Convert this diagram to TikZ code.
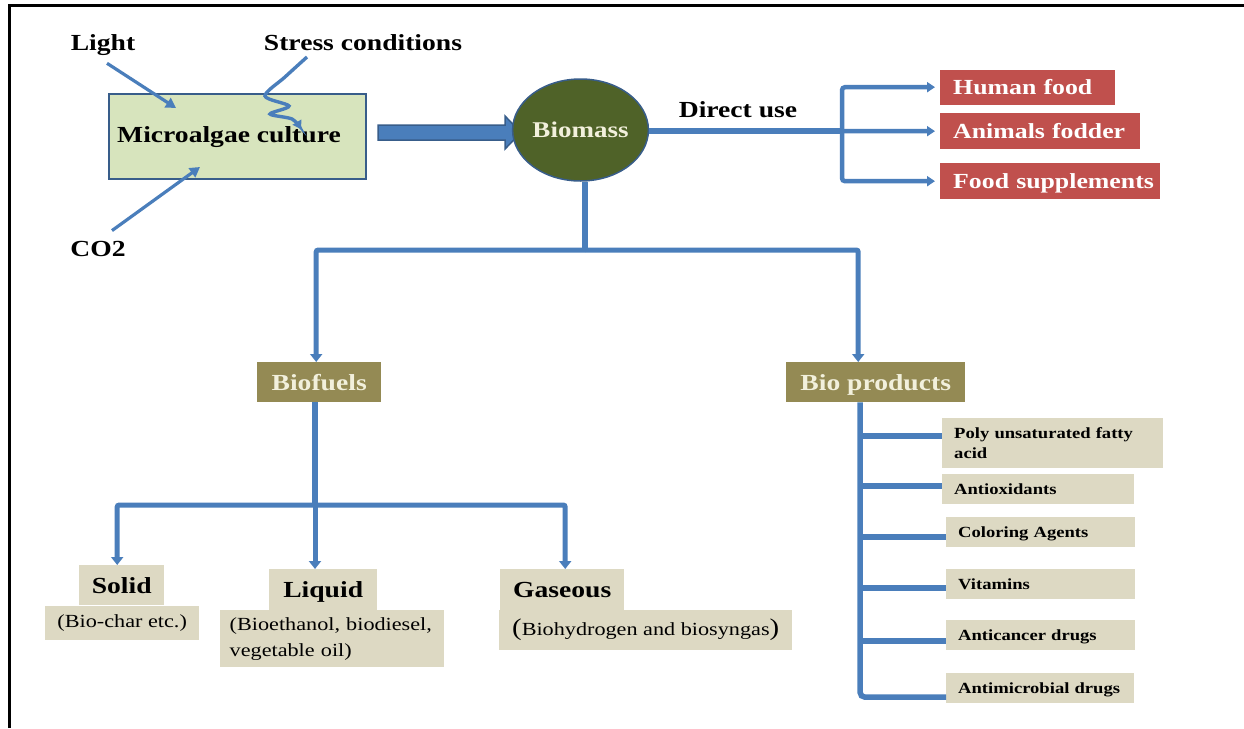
\documentclass[tikz,border=0pt]{standalone}
\usepackage{fontspec}
\setmainfont{Liberation Serif}[FakeStretch=1.2]
\usetikzlibrary{arrows.meta,calc,shapes.geometric}
\definecolor{lineblue}{HTML}{4A7EBB}
\definecolor{darkblue}{HTML}{385D8A}
\definecolor{algae}{HTML}{D7E4BD}
\definecolor{olivegreen}{HTML}{4F6228}
\definecolor{khaki}{HTML}{948A54}
\definecolor{beige}{HTML}{DDD9C3}
\definecolor{redfill}{HTML}{C0504D}
\definecolor{cream}{HTML}{F2F0DC}
\begin{document}
\begin{tikzpicture}[x=1pt,y=-1pt,
  lbl/.style={font=\bfseries\fontsize{23}{27}\selectfont, inner sep=0, anchor=base},
  khakibox/.style={fill=khaki, text=cream, font=\bfseries\fontsize{23}{27}\selectfont, inner sep=0, text depth=0pt, anchor=north west},
  beigebold/.style={fill=beige, font=\bfseries\fontsize{23}{27}\selectfont, inner sep=0, text depth=0pt, anchor=north west},
  beigesub/.style={fill=beige, font=\fontsize{18.5}{26}\selectfont, inner sep=0, anchor=north west},
  listbox/.style={fill=beige, font=\bfseries\fontsize{15.5}{20}\selectfont, inner xsep=12, inner ysep=0, align=left, anchor=north west},
  oneline/.style={text depth=0pt},
  redb/.style={fill=redfill, text=white, font=\bfseries\fontsize{21.5}{25}\selectfont, inner xsep=13, inner ysep=0, text depth=0pt, align=left, anchor=north west},
  thinarrow/.style={draw=lineblue, line width=3.2, -{Triangle[length=10,width=11]}},
  mainline/.style={draw=lineblue, line width=6.5},
  tline/.style={draw=lineblue, line width=5.5},
  tarrow/.style={draw=lineblue, line width=5, -{Triangle[length=8,width=12]}},
  barrow/.style={draw=lineblue, line width=4.5},
]
\useasboundingbox (0,0) rectangle (1244,728);
\fill[white] (0,0) rectangle (1244,728);
\draw[line width=3] (9,728) -- (9,5) -- (1244,5);

% top left
\node[draw=darkblue, line width=1.5, fill=algae, minimum width=257, minimum height=85, anchor=north west, inner sep=0] (culture) at (108,93) {};
\node[lbl] (culturetxt) at (229,142) {Microalgae culture};
\node[lbl] (light) at (103,50) {Light};
\node[lbl] (stress) at (363,50) {Stress conditions};
\node[lbl] (co2) at (98,256) {CO2};

\coordinate (lightEnd) at (176,108);
\coordinate (co2End) at (200,167);
\draw[thinarrow] ([xshift=4,yshift=-8]light.south) -- (lightEnd);
\draw[thinarrow] ([xshift=14,yshift=10]co2.north) -- (co2End);
\draw[draw=lineblue, line width=3.4, -{Triangle[length=8,width=10]}]
  plot[smooth, tension=0.5] coordinates {(307,57) (285,77) (265,96) (289,106) (270,114) (292,119) (301,129)};

% block arrow
\draw[fill=lineblue, draw=darkblue, line width=1.5]
  (378,125) -- (505,125) -- (505,116) -- (521,132.5) -- (505,149) -- (505,140) -- (378,140) -- cycle;

% biomass
\node[ellipse, fill=olivegreen, draw=darkblue, line width=1.5, minimum width=115, minimum height=102, inner sep=0,
      text=cream, font=\bfseries\fontsize{22.5}{26}\selectfont] (biomass) at (580.5,130) {Biomass};

% direct use
\node[lbl] (direct) at (738,117) {Direct use};
\node[redb, text width=149, minimum height=35] (f1) at (940,69.5) {\mbox{Human food}};
\node[redb, text width=174, minimum height=36] (f2) at (940,113) {\mbox{Animals fodder}};
\node[redb, text width=194, minimum height=36] (f3) at (940,163) {\mbox{Food supplements}};
\coordinate (dj) at (842,131);
\draw[mainline] (biomass.east |- dj) -- (dj);
\draw[barrow, rounded corners=3, {Triangle[length=8,width=10]}-{Triangle[length=8,width=10]}]
  ([xshift=-5]f3.west) -- (dj |- f3.west) -- (dj |- f1.west) -- ([xshift=-5]f1.west);
\draw[barrow, -{Triangle[length=8,width=10]}] (dj) -- ([xshift=-5]f2.west);

% second level
\node[khakibox, minimum width=124, minimum height=40] (biofuels) at (257,362) {Biofuels};
\node[khakibox, minimum width=179, minimum height=40] (bioprod) at (786,362) {Bio products};
\coordinate (t0) at (585,250);
\draw[mainline] ([xshift=4.5]biomass.south) -- (t0);
\draw[tarrow, rounded corners=2] (t0) -| ([xshift=-3]biofuels.north);
\draw[tarrow, rounded corners=2] (t0) -| ([xshift=-17.5]bioprod.north);

% biofuels subtree
\node[beigebold, minimum width=85, minimum height=40] (solid) at (79,565) {Solid};
\node[beigesub, minimum width=154, minimum height=34] (solidsub) at (45,606) {(Bio-char etc.)};
\node[beigebold, minimum width=108, minimum height=41] (liquid) at (269,569) {Liquid};
\node[beigesub, text width=205, inner xsep=9.5, align=left, minimum height=57] (liquidsub) at (220,610) {(Bioethanol, biodiesel,\\vegetable oil)};
\node[beigebold, minimum width=124, minimum height=41] (gas) at (500,569) {Gaseous};
\node[beigesub, minimum width=293, minimum height=40] (gassub) at (499,610)
  {{\fontsize{24}{24}\selectfont(}Biohydrogen and biosyngas{\fontsize{24}{24}\selectfont)}};
\coordinate (b0) at (315,505);
\draw[tline] (biofuels.south -| b0) -- (b0);
\draw[tarrow, rounded corners=2] (b0) -| ([xshift=-4.5]solid.north);
\draw[tarrow] (b0) -- (b0 |- liquid.north);
\draw[tarrow, rounded corners=2] (b0) -| ([xshift=3]gas.north);

% bio products subtree
\node[listbox, text width=197, minimum height=50] (p1) at (942,418) {Poly unsaturated fatty\\acid};
\node[listbox, oneline, text width=168, minimum height=30] (p2) at (942,474) {Antioxidants};
\node[listbox, oneline, text width=165, minimum height=30] (p3) at (946,517) {Coloring Agents};
\node[listbox, oneline, text width=165, minimum height=30] (p4) at (946,569) {Vitamins};
\node[listbox, oneline, text width=165, minimum height=30] (p5) at (946,620) {Anticancer drugs};
\node[listbox, oneline, text width=164, minimum height=30] (p6) at (946,673) {Antimicrobial drugs};
\coordinate (bx) at (860,402);
\coordinate (p1b) at ($(p1.west)+(0,-7)$);
\coordinate (p2b) at ($(p2.west)+(0,-3)$);
\coordinate (p3b) at ($(p3.west)+(0,5)$);
\coordinate (p4b) at ($(p4.west)+(0,4)$);
\coordinate (p5b) at ($(p5.west)+(0,6)$);
\coordinate (p6b) at ($(p6.west)+(0,9)$);
\draw[tline, rounded corners=5] (bioprod.south -| bx) -- (bx |- p6b) -- (p6b);
\foreach \p in {p1b,p2b,p3b,p4b,p5b}{
  \draw[tline] (bx |- \p) -- (\p);
}
\end{tikzpicture}
\end{document}
